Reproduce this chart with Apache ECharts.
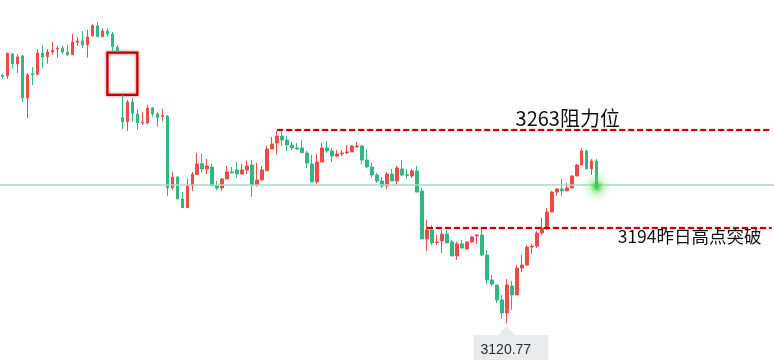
<!DOCTYPE html>
<html><head><meta charset="utf-8">
<script src="https://cdn.jsdelivr.net/npm/echarts@6/dist/echarts.min.js"></script>
<style>html,body{margin:0;padding:0;background:#fff}#c{width:774px;height:360px}</style>
</head><body><div id="c"></div>
<script>
const opens = [
3301.4,3301.1,3316.6,3309.6,3315.2,3285.6,3302.8,3302.1,3317.3,3314.7,
3318.0,3320.1,3320.8,3318.0,3316.1,3324.9,3325.8,3323.2,3329.5,3336.4,
3328.8,3332.8,3330.7,3321.1,3271.7,3268.8,3282.7,3274.3,3267.9,3267.9,
3278.5,3274.3,3272.6,3272.9,3222.3,3229.8,3214.3,3208.2,3223.5,3231.7,
3239.2,3235.5,3236.9,3223.7,3222.1,3228.4,3233.4,3234.8,3231.9,3234.8,
3238.3,3224.2,3227.7,3234.3,3249.6,3253.8,3258.7,3255.9,3252.4,3250.3,
3250.3,3246.8,3239.0,3226.3,3240.4,3250.3,3248.2,3244.6,3246.1,3246.8,
3247.5,3251.0,3251.7,3241.8,3236.9,3231.2,3227.0,3223.5,3231.9,3227.0,
3235.5,3231.5,3230.5,3234.1,3220.0,3186.1,3192.4,3183.5,3184.7,3189.6,
3184.0,3174.1,3182.6,3179.0,3184.0,3188.2,3188.9,3174.8,3157.2,3153.6,
3143.1,3133.9,3152.9,3146.6,3165.6,3167.7,3180.4,3181.1,3190.3,3193.8,
3205.1,3219.2,3221.4,3220.0,3222.1,3230.5,3238.3,3248.2,3235.5,3241.1];
const closes = [
3300.7,3317.0,3309.9,3314.5,3285.6,3301.8,3302.1,3317.3,3314.5,3318.0,
3319.2,3320.8,3318.0,3316.1,3325.1,3325.8,3323.0,3328.6,3336.6,3328.8,
3332.8,3330.7,3321.8,3318.9,3268.8,3282.7,3274.8,3268.1,3268.5,3278.5,
3274.3,3271.7,3273.1,3222.1,3229.8,3214.3,3208.2,3223.5,3231.7,3239.0,
3235.5,3237.6,3223.7,3222.1,3228.4,3233.4,3232.8,3231.9,3234.8,3237.6,
3224.2,3227.7,3234.8,3249.6,3253.1,3258.7,3255.9,3252.4,3250.3,3249.6,
3247.0,3239.7,3226.3,3240.4,3250.3,3248.2,3244.6,3246.1,3246.8,3247.5,
3251.7,3251.7,3241.8,3236.9,3231.2,3227.0,3223.5,3231.9,3227.0,3236.2,
3231.2,3231.0,3234.1,3219.2,3186.1,3192.4,3183.3,3184.0,3189.6,3183.3,
3174.1,3182.6,3179.7,3184.0,3187.5,3188.9,3174.8,3157.2,3154.3,3143.1,
3133.9,3153.6,3146.6,3165.6,3167.7,3180.4,3181.1,3190.3,3193.8,3205.1,
3219.2,3221.4,3220.0,3222.1,3230.5,3238.3,3248.2,3235.5,3241.1,3223.0];
const lows = [
3299.0,3299.0,3306.4,3303.2,3282.7,3271.5,3294.7,3302.1,3306.7,3309.8,
3316.1,3314.0,3316.4,3315.2,3316.1,3322.3,3320.6,3314.0,3328.8,3328.8,
3328.8,3328.8,3318.9,3317.5,3263.7,3262.3,3268.8,3263.0,3266.5,3267.0,
3272.4,3265.3,3269.3,3216.4,3220.7,3214.3,3208.2,3208.2,3220.0,3231.7,
3232.9,3231.9,3223.3,3220.4,3220.2,3228.4,3232.2,3229.3,3231.9,3231.9,
3215.9,3223.0,3227.7,3234.3,3249.6,3245.6,3251.7,3248.2,3248.9,3248.9,
3247.0,3236.2,3226.3,3224.9,3240.4,3246.8,3240.4,3243.9,3244.6,3246.1,
3247.5,3250.3,3239.0,3236.2,3229.1,3225.6,3222.1,3221.4,3227.0,3224.2,
3230.5,3228.4,3229.1,3219.2,3186.1,3177.6,3181.9,3181.9,3176.2,3183.3,
3174.1,3171.3,3179.7,3179.0,3183.3,3182.6,3174.1,3154.3,3152.9,3140.9,
3129.7,3126.8,3136.0,3146.6,3162.8,3167.7,3175.5,3179.7,3188.9,3192.4,
3205.1,3216.4,3216.4,3220.0,3222.1,3230.5,3238.3,3235.5,3231.2,3221.4];
const highs = [
3302.5,3317.7,3317.3,3316.4,3315.9,3303.2,3307.4,3320.1,3323.0,3320.1,
3325.1,3322.3,3322.5,3323.0,3330.7,3328.4,3332.8,3333.5,3337.8,3339.2,
3334.7,3334.9,3332.1,3323.0,3287.7,3284.2,3285.4,3277.8,3275.7,3280.6,
3279.2,3275.7,3277.8,3273.6,3233.4,3230.5,3219.2,3228.4,3233.4,3246.8,
3246.1,3242.5,3239.0,3227.0,3229.1,3237.6,3236.9,3240.4,3239.0,3241.3,
3241.8,3239.9,3237.6,3251.7,3258.0,3262.3,3262.1,3258.7,3254.5,3253.8,
3255.9,3248.2,3245.4,3246.1,3253.8,3255.2,3250.3,3248.9,3248.9,3252.4,
3252.4,3254.5,3252.4,3249.6,3239.7,3232.6,3229.8,3233.4,3235.5,3237.6,
3241.8,3235.5,3235.5,3237.6,3222.1,3199.5,3196.0,3188.9,3192.4,3192.4,
3185.4,3184.0,3185.4,3184.0,3188.2,3189.6,3193.8,3178.3,3160.7,3153.6,
3146.6,3157.9,3156.5,3167.7,3174.8,3181.9,3182.6,3191.7,3200.9,3208.0,
3220.0,3222.1,3228.4,3225.6,3231.2,3239.0,3250.3,3248.9,3242.5,3242.5];

const slotCount = 155;               // candle slots across the view (incl. empty right side)
const resistance = 3263;
const resistanceText = '3263阻力位';
const breakout = 3194;
const breakoutText = '3194昨日高点突破';
const refLevel = 3224.0;             // thin horizontal reference line
const minText = '3120.77';
const resistanceStart = 55, breakoutStart = 85;
const gapBefore = 23, gapAfter = 24, gapLeft = 21, gapRight = 27;
const resistanceLabelAt = 113, breakoutLabelAt = 137;
const yMin = 3100.7, yMax = 3354.7;

const RED = '#ec4c45', GREEN = '#2fb97f', DASH = '#c80000';
const CJK = '"Noto Sans CJK SC", "Noto Sans", sans-serif';

const categories = Array.from({length: slotCount}, (_, i) => String(i));
const candles = opens.map((o, i) => [o, closes[i], lows[i], highs[i]]);
let minIdx = 0;
lows.forEach((v, i) => { if (v < lows[minIdx]) minIdx = i; });
const last = closes.length - 1;

const chart = echarts.init(document.getElementById('c'), null, {renderer: 'canvas'});
chart.setOption({
  animation: false,
  backgroundColor: '#ffffff',
  grid: {left: -3.26, top: 0, width: 781.5, height: 360},
  xAxis: {type: 'category', data: categories, show: false, boundaryGap: true},
  yAxis: {type: 'value', min: yMin, max: yMax, show: false, splitLine: {show: false}},
  series: [
    {
      type: 'candlestick',
      data: candles,
      barWidth: 3,
      itemStyle: {color: RED, color0: GREEN, borderColor: RED, borderColor0: GREEN, borderWidth: 1},
      markLine: {
        silent: true,
        symbol: ['none', 'none'],
        label: {show: false},
        data: [
          {yAxis: refLevel, lineStyle: {color: '#abd9c6', width: 1.5, type: 'solid'}},
          [
            {coord: [resistanceStart, resistance], lineStyle: {color: DASH, width: 2, type: [6, 3], shadowBlur: 2, shadowColor: 'rgba(230,60,60,0.7)'}},
            {coord: [slotCount - 1, resistance]}
          ],
          [
            {coord: [breakoutStart, breakout], lineStyle: {color: DASH, width: 2, type: [6, 3], shadowBlur: 2, shadowColor: 'rgba(230,60,60,0.7)'}},
            {coord: [slotCount - 1, breakout]}
          ]
        ]
      },
      markArea: {
        silent: true,
        data: [[
          {coord: [gapLeft, lows[gapBefore]], itemStyle: {color: 'rgba(0,0,0,0)', borderColor: '#c00000', borderWidth: 2.2, shadowBlur: 3, shadowColor: 'rgba(220,40,40,0.8)'}},
          {coord: [gapRight, highs[gapAfter]]}
        ]]
      },
      markPoint: {
        silent: true,
        data: [
          {
            coord: [minIdx, lows[minIdx]],
            symbol: 'path://M0,9 L25,9 L33.5,0 L42,9 L75,9 L75,34 L0,34 Z',
            symbolSize: [75, 34],
            symbolKeepAspect: false,
            symbolOffset: [4, 20],
            itemStyle: {color: '#e9ecef'},
            label: {show: true, position: 'inside', offset: [-5, 7], formatter: minText,
                    color: '#2b2b2b', fontSize: 14, fontFamily: 'Liberation Sans, Arial, sans-serif'}
          },
          {
            coord: [resistanceLabelAt, resistance],
            symbol: 'circle', symbolSize: 0,
            label: {show: true, position: 'inside', offset: [1, -12], formatter: resistanceText,
                    color: '#111', fontSize: 20, fontFamily: CJK}
          },
          {
            coord: [breakoutLabelAt, breakout],
            symbol: 'circle', symbolSize: 0,
            label: {show: true, position: 'inside', offset: [3, 9], formatter: breakoutText,
                    color: '#111', fontSize: 17.5, fontFamily: CJK}
          }
        ]
      }
    },
    {
      type: 'scatter',
      silent: true,
      z: 10,
      data: [[last, closes[last]]],
      symbolSize: 32,
      itemStyle: {
        color: {
          type: 'radial', x: 0.5, y: 0.5, r: 0.5,
          colorStops: [
            {offset: 0, color: 'rgba(40,200,50,1)'},
            {offset: 0.18, color: 'rgba(50,205,60,0.85)'},
            {offset: 0.45, color: 'rgba(100,220,100,0.35)'},
            {offset: 1, color: 'rgba(150,235,150,0)'}
          ]
        }
      }
    }
  ]
});
</script>
</body></html>
